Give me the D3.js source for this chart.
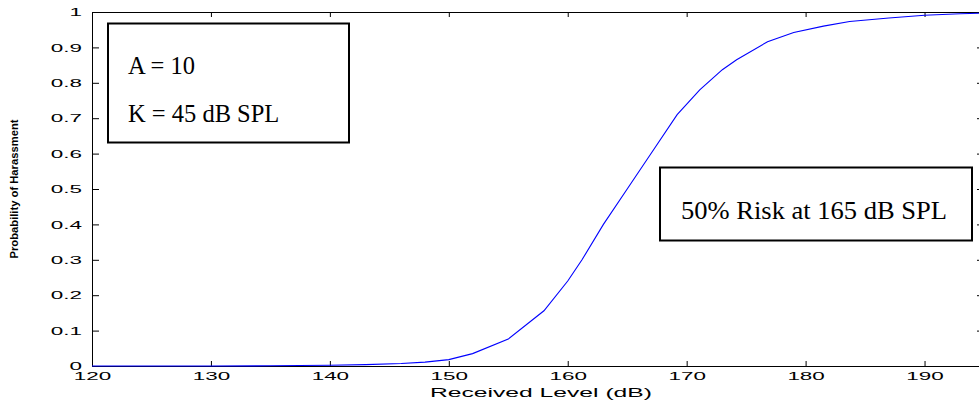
<!DOCTYPE html>
<html>
<head>
<meta charset="UTF-8">
<title>Probability of Harassment</title>
<script src="https://d3js.org/d3.v7.min.js"></script>
<style>
  body { margin: 0; background: #fff; }
  svg { display: block; }
  .axis text { font-family: "Liberation Sans", Arial, sans-serif; font-size: 11.5px; fill: #000; }
  .axis line, .axis path { stroke: #000; }
  .note { font-family: "Liberation Serif", "Times New Roman", serif; fill: #000; }
</style>
</head>
<body>
<div id="chart"></div>
<script>
// curve (received level in dB -> probability)
const levels = [120, 125, 130, 135, 140, 143, 146, 148, 150, 152, 155, 158, 160, 161.2, 163, 165,
                167.4, 169.2, 171.1, 173, 174.2, 176.8, 179, 181.5, 183.7, 187, 190, 193, 195];
const probs  = [0, 0, 0.0002, 0.0005, 0.002, 0.004, 0.007, 0.011, 0.018, 0.035, 0.076, 0.156, 0.24, 0.30, 0.40, 0.5,
                0.62, 0.71, 0.78, 0.837, 0.865, 0.916, 0.942, 0.96, 0.973, 0.983, 0.991, 0.995, 0.997];

const xTicks = [120, 130, 140, 150, 160, 170, 180, 190];
const yTicks = [0, 0.1, 0.2, 0.3, 0.4, 0.5, 0.6, 0.7, 0.8, 0.9, 1];
const yTickLabels = ["0", "0.1", "0.2", "0.3", "0.4", "0.5", "0.6", "0.7", "0.8", "0.9", "1"];

const xTitle = "Received Level (dB)";
const yTitle = "Probability of Harassment";
const paramLines = ["A = 10", "K = 45 dB SPL"];
const riskNote = "50% Risk at 165 dB SPL";

const W = 979, H = 404;
const stretch = 1.95;   // the axis text in the original is stretched sideways

const x = d3.scaleLinear().domain([120, 195]).range([92, 984]);
const y = d3.scaleLinear().domain([0, 1]).range([366, 12]);

const svg = d3.select("#chart").append("svg")
  .attr("width", W).attr("height", H);

function widen(g) {
  g.selectAll("text").each(function () {
    const w = this.getComputedTextLength();
    if (w > 0) d3.select(this).attr("textLength", w * stretch).attr("lengthAdjust", "spacingAndGlyphs");
  });
}

// box axes, ticks pointing inward
svg.append("g").attr("class", "axis")
  .attr("transform", `translate(0,${y(0)})`)
  .call(d3.axisBottom(x).tickValues(xTicks).tickFormat(d3.format("d"))
    .tickSizeInner(-5).tickSizeOuter(0).tickPadding(6))
  .call(widen);

svg.append("g").attr("class", "axis")
  .attr("transform", `translate(0,${y(1)})`)
  .call(d3.axisTop(x).tickValues(xTicks).tickFormat("")
    .tickSizeInner(-5).tickSizeOuter(0));

svg.append("g").attr("class", "axis")
  .attr("transform", `translate(${x(120)},0)`)
  .call(d3.axisLeft(y).tickValues(yTicks).tickFormat(d => yTickLabels[yTicks.indexOf(d)])
    .tickSizeInner(-7).tickSizeOuter(0).tickPadding(10))
  .call(widen);

svg.append("g").attr("class", "axis")
  .attr("transform", `translate(${x(195)},0)`)
  .call(d3.axisRight(y).tickValues(yTicks).tickFormat("")
    .tickSizeInner(-7).tickSizeOuter(0));

// axis titles
svg.append("text")
  .attr("x", 541).attr("y", 397)
  .attr("text-anchor", "middle")
  .style("font-family", '"Liberation Sans", Arial, sans-serif')
  .style("font-size", "12px")
  .attr("textLength", 222).attr("lengthAdjust", "spacingAndGlyphs")
  .text(xTitle);

svg.append("text")
  .attr("transform", `translate(18,${y(0.5)}) rotate(-90)`)
  .attr("text-anchor", "middle")
  .style("font-family", '"Liberation Sans", Arial, sans-serif')
  .style("font-size", "11px")
  .style("font-weight", "bold")
  .attr("textLength", 139).attr("lengthAdjust", "spacingAndGlyphs")
  .text(yTitle);

// the curve
const pts = levels.map((l, i) => [l, probs[i]]);
svg.append("path")
  .datum(pts)
  .attr("fill", "none")
  .attr("stroke", "#0000ff")
  .attr("stroke-width", 1.1)
  .attr("d", d3.line().x(d => x(d[0])).y(d => y(d[1])));

// annotation boxes
const box1 = svg.append("g");
box1.append("rect")
  .attr("x", 108).attr("y", 23.5).attr("width", 241).attr("height", 119)
  .attr("fill", "#fff").attr("stroke", "#000").attr("stroke-width", 2);
box1.selectAll("text").data(paramLines).enter().append("text")
  .attr("class", "note")
  .attr("x", 128).attr("y", (d, i) => 74 + i * 47.5)
  .style("font-size", "24.5px")
  .text(d => d);

const box2 = svg.append("g");
box2.append("rect")
  .attr("x", 660).attr("y", 167.5).attr("width", 312).attr("height", 73)
  .attr("fill", "#fff").attr("stroke", "#000").attr("stroke-width", 2);
box2.append("text")
  .attr("class", "note")
  .attr("x", 681).attr("y", 218.5)
  .style("font-size", "25.5px")
  .attr("textLength", 266).attr("lengthAdjust", "spacingAndGlyphs")
  .text(riskNote);
</script>
</body>
</html>
